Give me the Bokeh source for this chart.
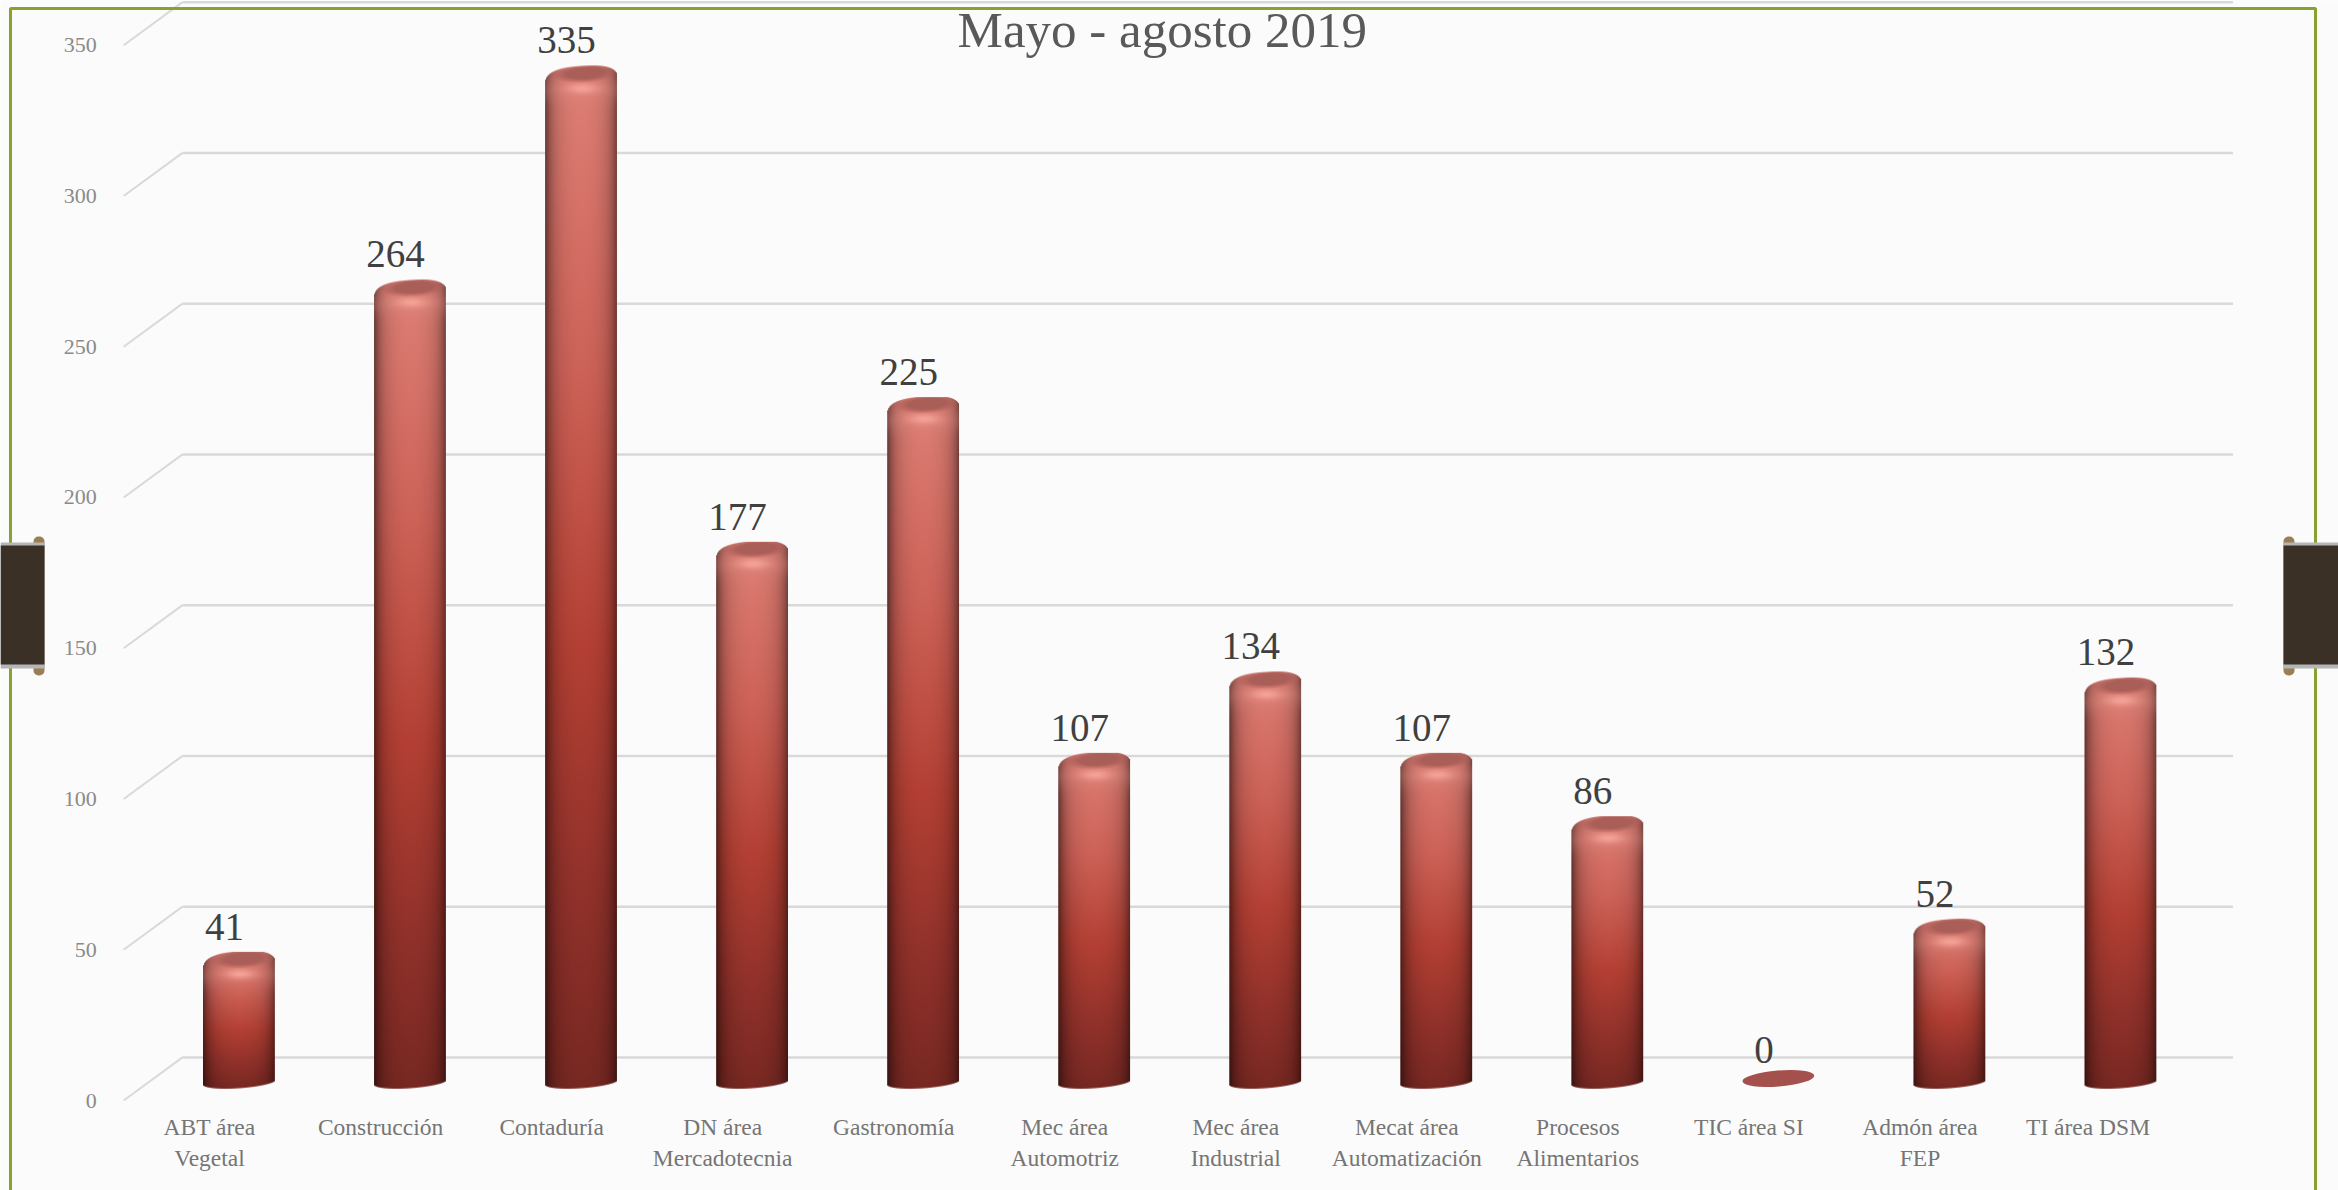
import numpy as np
from bokeh.plotting import figure
from bokeh.models import Range1d, LinearAxis, FixedTicker, BoxAnnotation, Label, ColumnDataSource
from bokeh.core.properties import value
from bokeh.embed import file_html
from bokeh.resources import INLINE

categories = ["ABT área\nVegetal", "Construcción", "Contaduría", "DN área\nMercadotecnia",
              "Gastronomía", "Mec área\nAutomotriz", "Mec área\nIndustrial",
              "Mecat área\nAutomatización", "Procesos\nAlimentarios", "TIC área SI",
              "Admón área\nFEP", "TI  área DSM"]
values = [41, 264, 335, 177, 225, 107, 134, 107, 86, 0, 52, 132]
y_ticks = [0, 50, 100, 150, 200, 250, 300, 350]
title_text = "Mayo - agosto 2019"

FONT = "Liberation Serif"
BG = "#fbfbfb"
H = 1190
PX_X = 171.05  # pixels per category
PX_Y = 3.015   # pixels per unit
BAR_SHIFT = 0.172
BAR_W = 0.42
WALL = 14.3    # depth of the back wall in value units
TOP_OFF = 8.3
BASE_OFF = 3.9

p = figure(width=2338, height=H, output_backend="svg", toolbar_location=None,
           x_range=Range1d(-1.222, 12.447), y_range=Range1d(-29.85, 364.84),
           x_axis_type=None, y_axis_type=None,
           min_border=0,
           background_fill_color=BG, border_fill_color=BG, outline_line_color=None)
p.grid.visible = False

x_front, x_wall, x_end = -0.502, -0.158, 11.83

# axes
yax = LinearAxis(ticker=FixedTicker(ticks=y_ticks), axis_line_color=None, fixed_location=x_front,
                 major_tick_line_color=None, minor_tick_line_color=None,
                 major_label_standoff=21, major_label_text_font=FONT,
                 major_label_text_font_size="22px", major_label_text_color="#8a8a8a")
p.add_layout(yax, "left")
xax = LinearAxis(ticker=FixedTicker(ticks=list(range(len(categories)))), axis_line_color=None,
                 fixed_location=-1.66,
                 major_tick_line_color=None, minor_tick_line_color=None,
                 major_label_overrides={i: c for i, c in enumerate(categories)},
                 major_label_standoff=2, major_label_text_font=FONT,
                 major_label_text_font_size="23.5px", major_label_text_color="#757575")
p.add_layout(xax, "below")

# wall gridlines
p.segment(x0=[x_front] * len(y_ticks), y0=y_ticks, x1=[x_wall] * len(y_ticks),
          y1=[t + WALL for t in y_ticks], line_color="#d9d9d9", line_width=2)
p.segment(x0=[x_wall] * len(y_ticks), y0=[t + WALL for t in y_ticks], x1=[x_end] * len(y_ticks),
          y1=[t + WALL for t in y_ticks], line_color="#d9d9d9", line_width=2.5)


def lerp_stops(f, stops):
    xs = [s[0] for s in stops]
    return np.stack([np.interp(f, xs, [s[1][k] for s in stops]) for k in range(3)], axis=-1)


def cylinder(v):
    w = int(round(BAR_W * PX_X))
    h = int(round((v + TOP_OFF - BASE_OFF) * PX_Y))
    u = (np.arange(w) + 0.5) / w * 2 - 1
    t = np.arange(h) + 0.5
    U, T = np.meshgrid(u, t)
    f = T / h
    col = lerp_stops(f, [(0, (222, 128, 118)), (0.3, (205, 98, 88)), (0.57, (180, 64, 52)),
                         (0.8, (146, 50, 43)), (1, (120, 40, 34))])
    shade = 1 - 0.2 * np.abs(U) ** 2 - 0.36 * np.abs(U) ** 6
    col = col * shade[..., None]
    # highlight and cap at the top
    hi = np.exp(-((U - 0.02) / 0.42) ** 2 - ((T - 23) / 5.0) ** 2)[..., None]
    col = col * (1 - hi) + np.array([248, 166, 155]) * hi
    body_hi = np.exp(-((T - 24) / 12.0) ** 2)[..., None] * 0.22
    col = col * (1 - body_hi) + np.array([230, 148, 138]) * body_hi
    cap = np.clip(1.3 - np.sqrt(((U - 0.1) / 0.72) ** 2 + ((T - 8 + 2 * U) / 7.5) ** 2), 0, 0.6) / 0.6
    col = col * (1 - cap[..., None]) + np.array([170, 94, 88]) * cap[..., None]
    # silhouette
    top = 15 * (1 - np.maximum(1 - np.abs(U) ** 3, 0) ** (1 / 3)) + 2.5 - 2.5 * U + 1.5 * U ** 2
    top = top - top.min()
    bot = h - 6 * (1 - np.sqrt(np.maximum(1 - U ** 2, 0))) - 2.5 * (U + 1) + 2
    a = np.clip(T - top + 0.5, 0, 1) * np.clip(bot - T + 0.5, 0, 1)
    img = np.zeros((h, w), dtype=np.uint32)
    view = img.view(dtype=np.uint8).reshape((h, w, 4))
    view[..., :3] = np.clip(col, 0, 255).astype(np.uint8)
    view[..., 3] = (a * 255).astype(np.uint8)
    return img[::-1]


for i, v in enumerate(values):
    if v > 0:
        p.image_rgba(image=[cylinder(v)], x=[i + BAR_SHIFT - BAR_W / 2], y=[BASE_OFF],
                     dw=[BAR_W], dh=[v + TOP_OFF - BASE_OFF])
    else:
        p.ellipse(x=[i + BAR_SHIFT], y=[v + 7.3], width=[72], height=[16],
                  width_units="screen", height_units="screen", angle=[0.08],
                  fill_color="#a4504c", line_color=None)

# data labels
src = ColumnDataSource(dict(x=[i + 0.0875 for i in range(len(values))],
                            y=[v + TOP_OFF + 8.3 for v in values],
                            t=[str(v) for v in values]))
p.text(x="x", y="y", text="t", source=src, text_font=value(FONT), text_font_size="39px",
       text_color="#404040", text_align="center", text_baseline="alphabetic")

# title
p.add_layout(Label(x=5.57, y=355, text=title_text, text_font=FONT, text_font_size="51px",
                   text_color="#595959", text_align="center", text_baseline="middle"))


def box(l, r, t, b, **kw):
    # t and b are pixels from the top of the page; screen units here count from the bottom
    p.add_layout(BoxAnnotation(left=l, right=r, top=H - t, bottom=H - b, left_units="screen",
                               right_units="screen", top_units="screen", bottom_units="screen", **kw))


# frame and tabs (screen pixels)
box(10, 2315, 8, 1200, fill_alpha=0, line_color="#87a22d", line_width=3, line_alpha=1)
for l, r in ((33, 44), (2283, 2294)):
    box(l, r, 536, 675, fill_color="#9a7f55", fill_alpha=1, line_alpha=0, border_radius=5)
for l, r in ((0, 44), (2283, 2338)):
    box(l, r, 542, 668, fill_color="#b5b5b5", fill_alpha=1, line_alpha=0)
    box(l, r, 545, 664, fill_color="#3b3026", fill_alpha=1, line_alpha=0)

open("out.html", "w").write(file_html(p, INLINE))
